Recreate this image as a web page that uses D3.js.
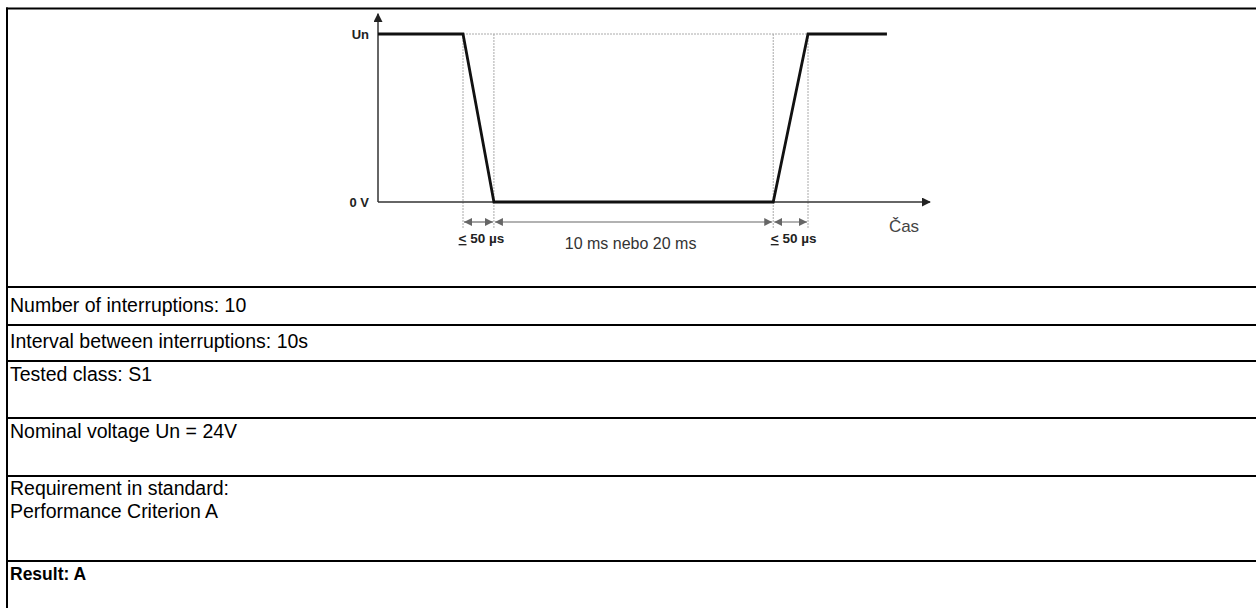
<!DOCTYPE html>
<html><head><meta charset="utf-8">
<script src="https://cdn.jsdelivr.net/npm/d3@7"></script>
<style>body{margin:0;background:#fff;}svg{display:block;}</style>
</head><body>
<svg id="c" width="1256" height="608"></svg>
<script>
// ---- data ----
const signalT = [0, 15.4, 21.0, 71.6, 77.9, 92.2];      // time (relative units)
const signalV = [1, 1, 0, 0, 1, 1];                    // voltage (fraction of Un)
const markerT = [15.4, 21.0, 71.6, 77.9];              // dimension guide positions
const spanLabels = ["50 \u00b5s", "10 ms nebo 20 ms", "50 \u00b5s"];
const spanPrefix = ["<", "", "<"];                     // drawn underlined (≤)
const levelLabels = ["0 V", "Un"];
const levelValues = [0, 1];
const axisLabel = "\u010cas";
const rowTexts = [
  ["Number of interruptions: 10"],
  ["Interval between interruptions: 10s"],
  ["Tested class: S1"],
  ["Nominal voltage Un = 24V"],
  ["Requirement in standard:", "Performance Criterion A"],
  ["Result: A"]
];
const rowBold = [false, false, false, false, false, true];

// ---- layout ----
const svg = d3.select("#c");
const x = d3.scaleLinear().domain([0, 100]).range([378, 930]);
const y = d3.scaleLinear().domain([0, 1]).range([202, 34]);
const rowTops = [287, 325, 361, 418, 476, 561];
const baseOff = [[25], [23], [20], [20], [19, 42], [19]];
const FONT = "Arial, 'Liberation Sans', sans-serif";

// table lines
const g = svg.append("g");
g.append("line").attr("x1", 6).attr("x2", 1256).attr("y1", 8.5).attr("y2", 8.5).attr("stroke", "#000").attr("stroke-width", 2);
g.append("line").attr("x1", 7).attr("x2", 7).attr("y1", 7.5).attr("y2", 608).attr("stroke", "#000").attr("stroke-width", 2);
rowTops.forEach(t => g.append("line").attr("x1", 6).attr("x2", 1256).attr("y1", t).attr("y2", t).attr("stroke", "#000").attr("stroke-width", 2));

rowTexts.forEach((lines, i) => {
  lines.forEach((s, j) => {
    g.append("text").attr("x", 10).attr("y", rowTops[i] + baseOff[i][j])
      .attr("font-family", FONT)
      .attr("font-size", rowBold[i] ? 17.5 : 19.5)
      .attr("font-weight", rowBold[i] ? "bold" : "normal")
      .attr("fill", "#000").text(s);
  });
});

// ---- diagram ----
const d = svg.append("g");
const yTop = y(1.12);
// dashed guides
d.append("line").attr("x1", x(markerT[0])).attr("x2", x(markerT[3])).attr("y1", y(1)).attr("y2", y(1))
  .attr("stroke", "#aaa").attr("stroke-width", 1).attr("stroke-dasharray", "2,1");
markerT.forEach(t => d.append("line").attr("x1", x(t)).attr("x2", x(t)).attr("y1", y(1)).attr("y2", y(0) + 26)
  .attr("stroke", "#aaa").attr("stroke-width", 1).attr("stroke-dasharray", "2,1"));

// axes
const defs = svg.append("defs");
defs.append("marker").attr("id", "ah").attr("viewBox", "0 0 10 10").attr("refX", 9).attr("refY", 5)
  .attr("markerWidth", 9).attr("markerHeight", 9).attr("markerUnits", "userSpaceOnUse").attr("orient", "auto")
  .append("path").attr("d", "M0,0L10,5L0,10z").attr("fill", "#222");
defs.append("marker").attr("id", "dm").attr("viewBox", "0 0 10 10").attr("refX", 10).attr("refY", 5)
  .attr("markerWidth", 8).attr("markerHeight", 8).attr("markerUnits", "userSpaceOnUse").attr("orient", "auto-start-reverse")
  .append("path").attr("d", "M0,0L10,5L0,10z").attr("fill", "#666");

d.append("line").attr("x1", x(0)).attr("x2", x(0)).attr("y1", y(0)).attr("y2", yTop)
  .attr("stroke", "#333").attr("stroke-width", 1.5).attr("marker-end", "url(#ah)");
d.append("line").attr("x1", x(0)).attr("x2", x(100)).attr("y1", y(0)).attr("y2", y(0))
  .attr("stroke", "#333").attr("stroke-width", 1.5).attr("marker-end", "url(#ah)");

// signal
const pts = signalT.map((t, i) => [x(t), y(signalV[i])]);
d.append("path").attr("d", d3.line()(pts)).attr("fill", "none").attr("stroke", "#111")
  .attr("stroke-width", 2.8).attr("stroke-linejoin", "miter");

// level labels
levelLabels.forEach((s, i) => d.append("text").attr("x", x(0) - 9).attr("y", y(levelValues[i]) + 5)
  .attr("text-anchor", "end").attr("font-family", FONT).attr("font-weight", "bold")
  .attr("font-size", 13).attr("fill", "#222").text(s));

// dimension arrows
const dimY = y(0) + 20;
for (let i = 0; i < 3; i++) {
  d.append("line").attr("x1", x(markerT[i]) + 1).attr("x2", x(markerT[i + 1]) - 1).attr("y1", dimY).attr("y2", dimY)
    .attr("stroke", "#666").attr("stroke-width", 1.2)
    .attr("marker-start", "url(#dm)").attr("marker-end", "url(#dm)");
}
// span labels
const spanMid = [ (markerT[0] + markerT[1]) / 2, (markerT[1] + markerT[2]) / 2, (markerT[2] + markerT[3]) / 2 ];
spanLabels.forEach((s, i) => {
  const big = i === 1;
  const t = d.append("text").attr("x", x(spanMid[i]) + (big ? -3 : 3)).attr("y", big ? dimY + 27 : dimY + 21)
    .attr("text-anchor", "middle").attr("font-family", FONT)
    .attr("font-weight", big ? "normal" : "bold").attr("font-size", big ? 16 : 13.5)
    .attr("fill", big ? "#333" : "#222");
  if (spanPrefix[i]) {
    t.append("tspan").attr("text-decoration", "underline").text(spanPrefix[i]);
    t.append("tspan").text(" " + s);
  } else {
    t.text(s);
  }
});
d.append("text").attr("x", 904).attr("y", y(0) + 30).attr("text-anchor", "middle")
  .attr("font-family", FONT).attr("font-size", 17).attr("fill", "#444").text(axisLabel);
</script>
</body></html>
